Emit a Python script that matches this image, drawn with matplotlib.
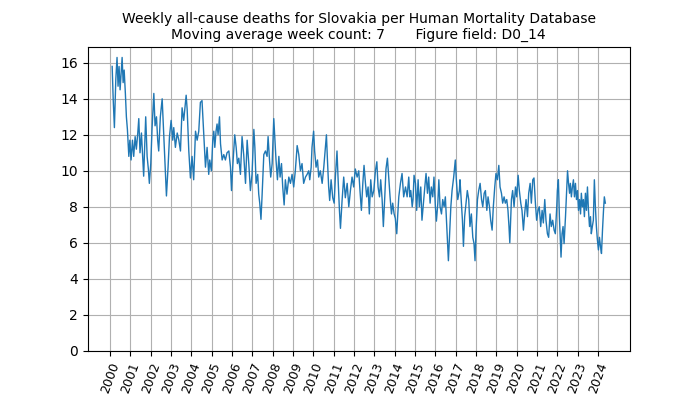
import matplotlib
matplotlib.use("Agg")
import matplotlib.pyplot as plt

# weekly deaths (7-week moving average) at ~monthly spacing
week_pos = [
    2000.10, 2000.15, 2000.21, 2000.28, 2000.34, 2000.39, 2000.44, 2000.49, 2000.54, 2000.59,
    2000.64, 2000.69, 2000.75, 2000.80, 2000.85, 2000.92, 2000.97, 2001.03, 2001.10, 2001.16,
    2001.23, 2001.29, 2001.36, 2001.41, 2001.47, 2001.54, 2001.61, 2001.65, 2001.70, 2001.75,
    2001.82, 2001.88, 2001.93, 2002.00, 2002.06, 2002.15, 2002.21, 2002.28, 2002.34, 2002.39,
    2002.47, 2002.56, 2002.64, 2002.72, 2002.77, 2002.85, 2002.92, 2003.00, 2003.08, 2003.13,
    2003.21, 2003.30, 2003.38, 2003.46, 2003.54, 2003.62, 2003.74, 2003.79, 2003.87, 2003.95,
    2004.03, 2004.11, 2004.20, 2004.28, 2004.36, 2004.44, 2004.52, 2004.61, 2004.69, 2004.77,
    2004.85, 2004.90, 2004.98, 2005.05, 2005.10, 2005.15, 2005.21, 2005.26, 2005.31, 2005.38,
    2005.43, 2005.51, 2005.59, 2005.67, 2005.75, 2005.84, 2005.92, 2005.97, 2006.03, 2006.13,
    2006.20, 2006.26, 2006.33, 2006.41, 2006.49, 2006.57, 2006.66, 2006.74, 2006.82, 2006.90,
    2006.98, 2007.07, 2007.12, 2007.18, 2007.26, 2007.31, 2007.36, 2007.42, 2007.47, 2007.56,
    2007.64, 2007.72, 2007.77, 2007.84, 2007.90, 2007.97, 2008.05, 2008.10, 2008.16, 2008.23,
    2008.30, 2008.36, 2008.43, 2008.49, 2008.56, 2008.62, 2008.70, 2008.79, 2008.87, 2008.95,
    2009.03, 2009.11, 2009.20, 2009.28, 2009.36, 2009.44, 2009.52, 2009.61, 2009.69, 2009.77,
    2009.82, 2009.89, 2009.93, 2010.01, 2010.06, 2010.13, 2010.20, 2010.26, 2010.34, 2010.43,
    2010.51, 2010.59, 2010.64, 2010.69, 2010.75, 2010.80, 2010.87, 2010.95, 2011.02, 2011.08,
    2011.16, 2011.21, 2011.28, 2011.33, 2011.41, 2011.49, 2011.57, 2011.66, 2011.74, 2011.82,
    2011.90, 2011.98, 2012.06, 2012.15, 2012.23, 2012.29, 2012.36, 2012.43, 2012.49, 2012.56,
    2012.62, 2012.69, 2012.75, 2012.82, 2012.89, 2012.97, 2013.05, 2013.12, 2013.18, 2013.25,
    2013.31, 2013.38, 2013.44, 2013.51, 2013.57, 2013.64, 2013.71, 2013.77, 2013.84, 2013.90,
    2013.97, 2014.03, 2014.10, 2014.15, 2014.20, 2014.28, 2014.36, 2014.44, 2014.53, 2014.61,
    2014.69, 2014.74, 2014.79, 2014.86, 2014.90, 2014.95, 2015.02, 2015.08, 2015.15, 2015.21,
    2015.28, 2015.34, 2015.41, 2015.48, 2015.54, 2015.61, 2015.67, 2015.74, 2015.80, 2015.87,
    2015.93, 2016.00, 2016.05, 2016.12, 2016.17, 2016.23, 2016.30, 2016.36, 2016.43, 2016.49,
    2016.56, 2016.61, 2016.64, 2016.69, 2016.76, 2016.82, 2016.90, 2016.98, 2017.03, 2017.10,
    2017.18, 2017.21, 2017.28, 2017.33, 2017.38, 2017.44, 2017.51, 2017.57, 2017.64, 2017.70,
    2017.77, 2017.84, 2017.90, 2017.95, 2018.00, 2018.07, 2018.13, 2018.20, 2018.27, 2018.33,
    2018.40, 2018.46, 2018.53, 2018.59, 2018.66, 2018.72, 2018.79, 2018.85, 2018.92, 2018.98,
    2019.05, 2019.12, 2019.18, 2019.25, 2019.31, 2019.38, 2019.44, 2019.51, 2019.57, 2019.62,
    2019.66, 2019.74, 2019.80, 2019.87, 2019.94, 2020.00, 2020.07, 2020.13, 2020.20, 2020.26,
    2020.33, 2020.39, 2020.46, 2020.53, 2020.59, 2020.66, 2020.72, 2020.79, 2020.85, 2020.92,
    2020.98, 2021.05, 2021.11, 2021.18, 2021.25, 2021.31, 2021.38, 2021.44, 2021.51, 2021.57,
    2021.64, 2021.70, 2021.77, 2021.84, 2021.90, 2021.97, 2022.00, 2022.05, 2022.10, 2022.15,
    2022.18, 2022.23, 2022.28, 2022.33, 2022.40, 2022.45, 2022.50, 2022.55, 2022.60, 2022.64,
    2022.69, 2022.74, 2022.79, 2022.84, 2022.89, 2022.94, 2022.99, 2023.04, 2023.09, 2023.14,
    2023.18, 2023.23, 2023.28, 2023.33, 2023.38, 2023.43, 2023.48, 2023.53, 2023.58, 2023.63,
    2023.67, 2023.72, 2023.77, 2023.82, 2023.87, 2023.92, 2023.97, 2024.02, 2024.07, 2024.12,
    2024.17, 2024.22, 2024.27, 2024.31, 2024.36,
]
deaths = [
    15.8, 14.0, 12.4, 15.1, 16.3, 14.7, 15.8, 14.5, 15.4, 16.3,
    14.9, 15.6, 14.3, 13.0, 12.3, 10.8, 11.7, 10.6, 11.7, 10.8,
    11.9, 11.2, 12.1, 12.9, 11.0, 12.1, 10.6, 9.7, 11.4, 13.0,
    10.8, 10.1, 9.3, 10.4, 12.3, 14.3, 12.5, 13.0, 11.7, 11.1,
    13.0, 14.0, 11.9, 9.8, 8.6, 10.2, 11.9, 12.8, 11.7, 12.4,
    11.3, 12.1, 11.7, 11.1, 13.5, 12.8, 14.2, 13.4, 11.1, 9.6,
    10.8, 9.5, 12.2, 11.7, 12.2, 13.8, 13.9, 11.9, 10.2, 11.3,
    9.8, 10.6, 10.0, 11.7, 12.2, 11.3, 12.2, 12.6, 12.0, 13.0,
    11.5, 10.6, 10.9, 10.6, 11.0, 11.1, 10.2, 8.9, 10.2, 12.0,
    11.3, 10.4, 10.7, 9.8, 11.9, 10.9, 9.3, 11.7, 10.4, 8.9,
    9.8, 12.3, 11.3, 9.3, 9.8, 8.7, 8.2, 7.3, 8.5, 10.9,
    11.1, 10.8, 11.9, 10.6, 9.65, 10.4, 12.9, 11.9, 10.6, 9.5,
    10.8, 9.65, 10.4, 9.1, 8.1, 9.5, 8.7, 9.65, 9.3, 9.8,
    9.1, 10.0, 11.4, 10.9, 10.0, 10.4, 9.3, 9.65, 9.8, 10.0,
    9.5, 10.2, 11.3, 12.2, 11.1, 10.2, 10.6, 9.65, 10.0, 9.3,
    10.2, 11.3, 12.0, 10.6, 9.1, 8.35, 9.5, 8.5, 8.2, 9.65,
    11.1, 9.65, 7.8, 6.8, 8.35, 9.65, 8.5, 9.3, 8.0, 8.9,
    9.65, 9.1, 10.1, 9.65, 10.0, 8.9, 7.8, 9.3, 10.3, 9.3,
    8.55, 9.1, 7.6, 9.5, 8.55, 8.9, 10.0, 10.5, 9.1, 8.55,
    9.5, 8.4, 6.9, 8.55, 10.1, 10.7, 9.5, 8.55, 7.6, 8.2,
    7.6, 7.35, 6.5, 7.6, 8.55, 9.3, 9.85, 8.55, 9.1, 8.55,
    9.65, 8.55, 8.9, 8.0, 8.4, 9.75, 9.3, 7.8, 9.5, 8.0,
    9.1, 7.25, 8.2, 9.1, 9.85, 8.75, 9.65, 8.2, 9.1, 8.55,
    9.65, 8.0, 7.2, 8.2, 9.5, 8.0, 7.6, 8.4, 8.0, 8.55,
    6.9, 5.6, 5.0, 6.3, 8.0, 8.9, 9.65, 10.6, 9.5, 8.4,
    8.9, 9.5, 8.2, 7.25, 5.8, 7.45, 8.2, 8.9, 8.4, 6.9,
    7.6, 6.3, 5.95, 5.0, 6.7, 8.4, 8.9, 9.3, 8.4, 8.0,
    8.75, 8.9, 7.8, 8.55, 8.0, 7.25, 6.7, 8.0, 9.1, 9.85,
    9.5, 10.3, 9.1, 8.75, 8.2, 8.55, 8.2, 8.4, 7.8, 6.9,
    6.0, 8.4, 8.9, 8.0, 9.1, 8.55, 9.75, 8.9, 8.2, 7.8,
    6.7, 7.6, 8.4, 7.45, 8.75, 9.3, 8.2, 9.5, 9.6, 8.2,
    7.25, 7.8, 8.0, 6.9, 7.8, 7.1, 8.4, 7.25, 6.5, 6.3,
    7.6, 6.9, 7.25, 6.7, 6.5, 8.0, 8.9, 9.5, 7.45, 5.95,
    5.2, 6.5, 6.9, 5.95, 7.45, 8.75, 10.0, 9.3, 8.75, 9.3,
    8.55, 9.1, 9.5, 8.55, 9.3, 8.4, 8.9, 7.8, 8.4, 7.6,
    8.75, 8.0, 8.4, 7.45, 8.75, 7.8, 9.1, 7.8, 6.9, 7.45,
    6.5, 6.9, 7.25, 9.5, 8.0, 6.9, 6.15, 5.6, 6.3, 5.8,
    5.4, 6.7, 7.8, 8.55, 8.2,
]
years = list(range(2000, 2025))
title = ("Weekly all-cause deaths for Slovakia per Human Mortality Database\n"
         "Moving average week count: 7       Figure field: D0_14")

fig, ax = plt.subplots(figsize=(7, 3.94), dpi=100)
ax.plot(week_pos, deaths, lw=1.0, color="#1f77b4")
ax.set_ylim(bottom=0)
ax.set_xticks(years)
ax.set_xticklabels([str(y) for y in years], rotation=70, fontsize=9)
ax.grid(True)
ax.set_title(title, fontsize=10)

fig.savefig("out.png", dpi=100)
